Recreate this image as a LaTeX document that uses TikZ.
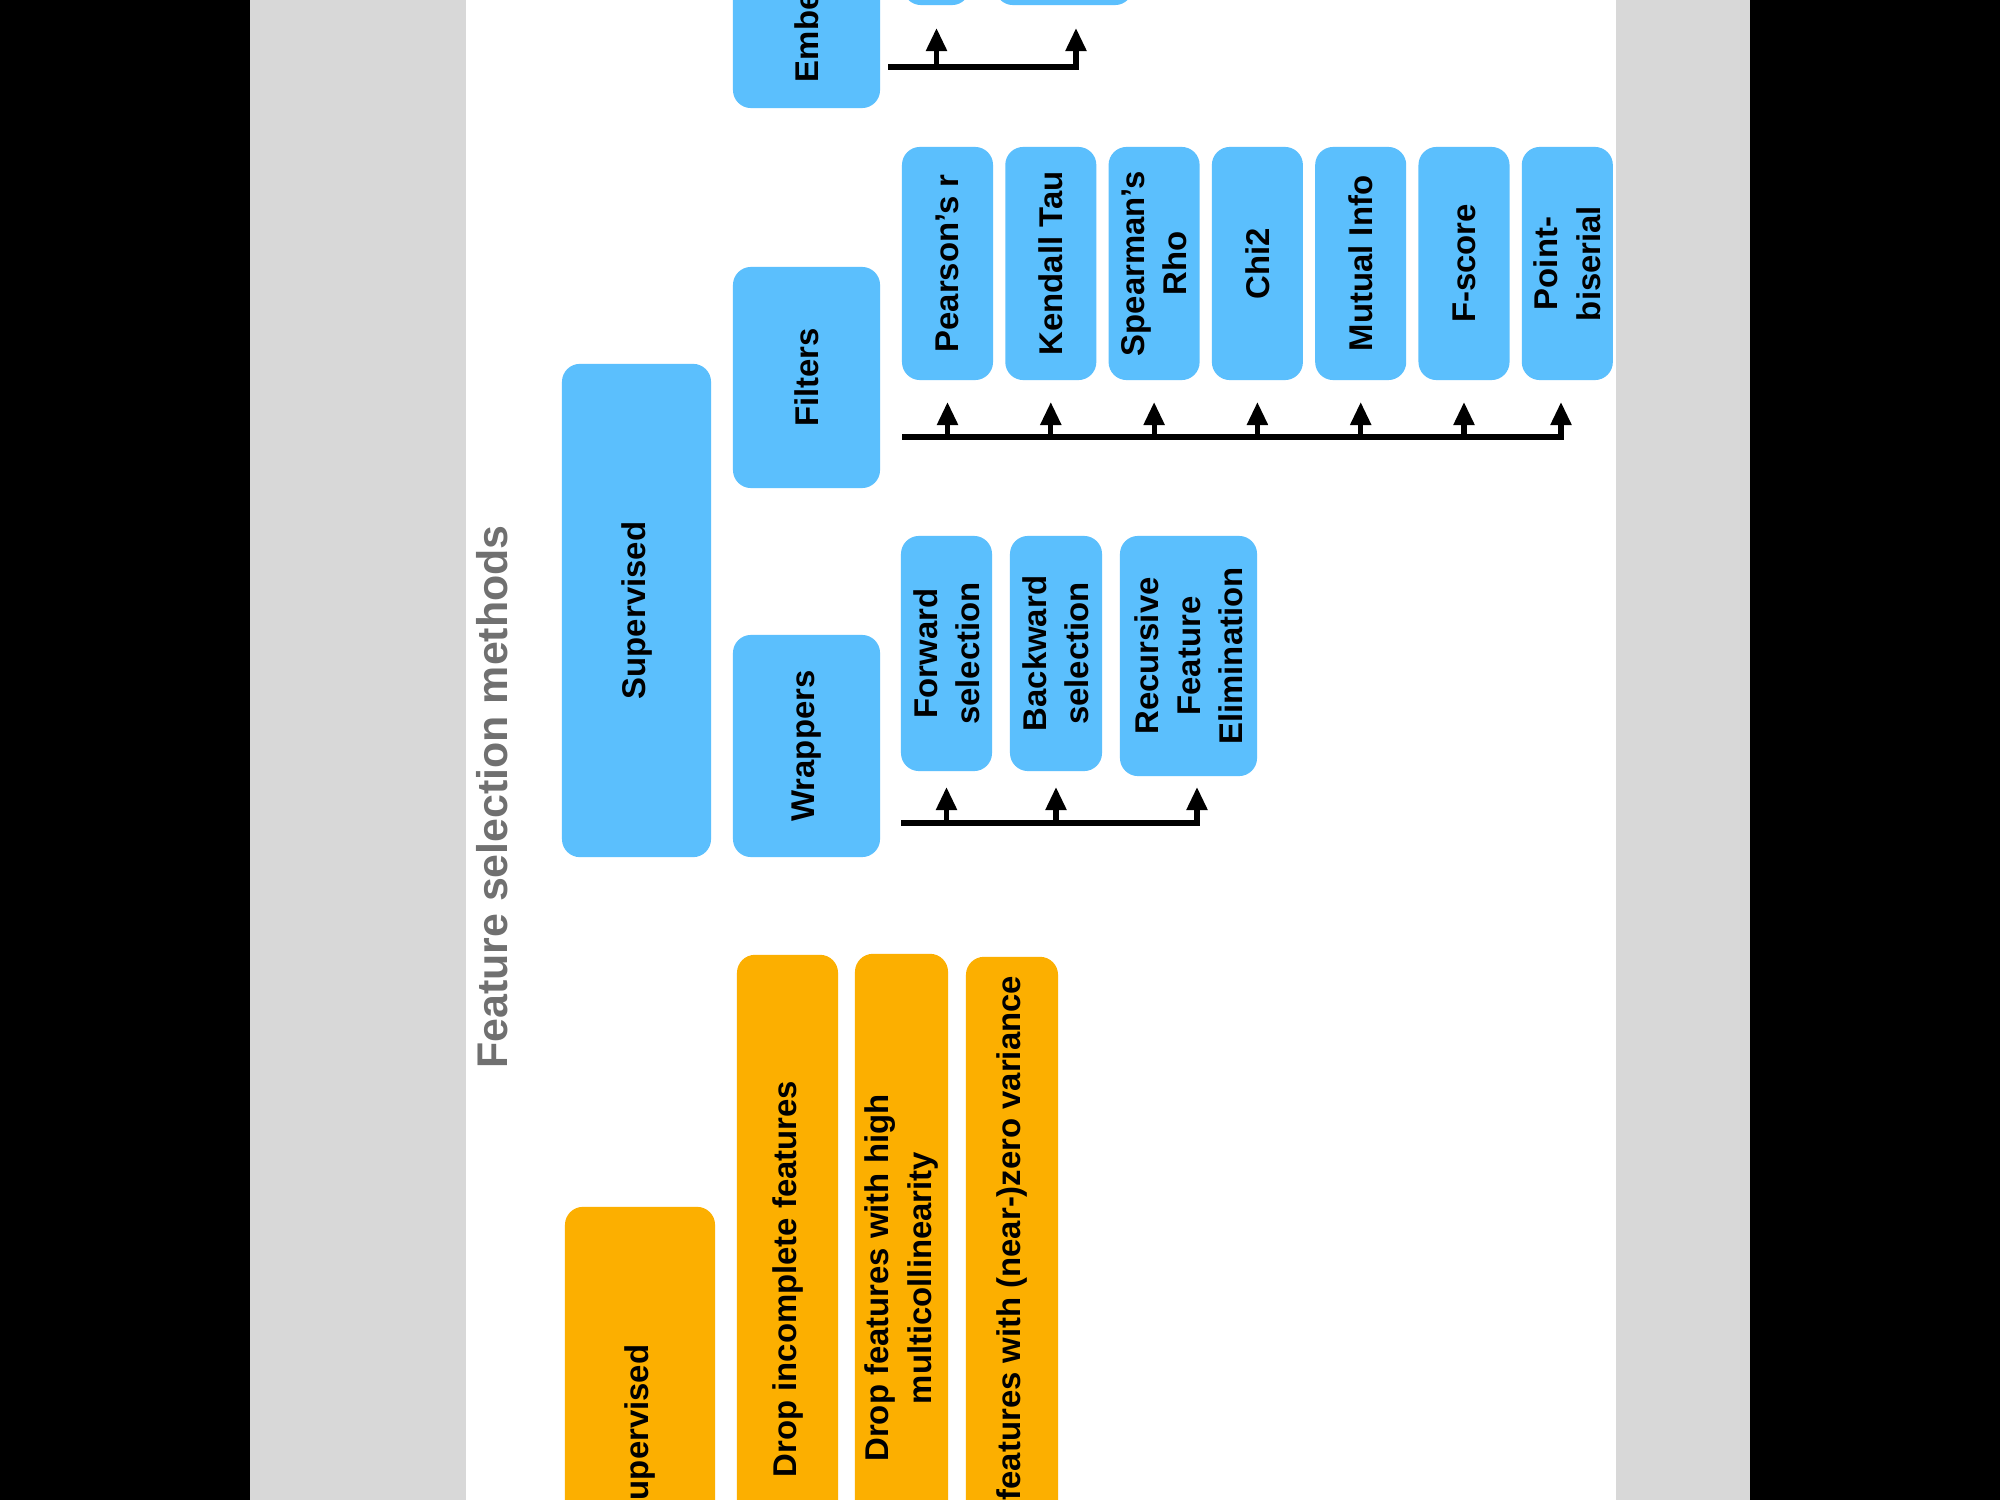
\documentclass[tikz,border=0pt]{standalone}
\usepackage{fontspec}
\setmainfont{Liberation Sans}
\usetikzlibrary{arrows.meta}
\definecolor{boxblue}{HTML}{5BBFFD}
\definecolor{boxorange}{HTML}{FCAF00}
\definecolor{stripgrey}{HTML}{D8D8D8}
\definecolor{titlegrey}{HTML}{707070}
\begin{document}
\begin{tikzpicture}[x=0.01cm,y=-0.01cm,
  nbox/.style={rotate=90, rounded corners=0.18cm, inner sep=0pt, align=center,
    font=\bfseries\fontsize{9.35pt}{12pt}\selectfont, text=black},
  bluebox/.style={nbox, fill=boxblue},
  orangebox/.style={nbox, fill=boxorange},
  sz/.style 2 args={minimum width=#2, minimum height=#1},
  conn/.style={line width=0.052cm, black},
  arr/.style={conn, -{Triangle[length=0.23cm,width=0.2cm]}},
]
\useasboundingbox (0,0) rectangle (2000,1500);
% screen background
\fill[black] (0,0) rectangle (2000,1500);
\fill[stripgrey] (250,0) rectangle (466,1500);
\fill[stripgrey] (1616,0) rectangle (1750,1500);
\fill[white] (466,0) rectangle (1616,1500);

\begin{scope}
\clip (466,0) rectangle (1616,1500);

% title
\node[rotate=90, anchor=base, text=titlegrey, inner sep=0pt,
      font=\bfseries\fontsize{12.2pt}{14pt}\selectfont] (title) at (507,797) {Feature selection methods};

% supervised branch
\node[bluebox, sz={1.49cm}{4.93cm}] (sup)  at (636.5,610.5) {Supervised};
\node[bluebox, sz={1.47cm}{2.20cm}] (emb)  at (806.5,-2) {Embedded};
\node[bluebox, sz={1.47cm}{2.21cm}] (filt) at (806.5,377.5) {Filters};
\node[bluebox, sz={1.47cm}{2.22cm}] (wrap) at (806.5,746) {Wrappers};

% embedded children (cut off)
\node[bluebox, sz={0.67cm}{2.00cm}] (e1) at (936.5,-95) {};
\node[bluebox, sz={1.38cm}{2.00cm}] (e2) at (1064,-95) {};

% filter children
\node[bluebox, sz={0.91cm}{2.33cm}] (pr)  at (947.5,263.5) {Pearson’s r};
\node[bluebox, sz={0.91cm}{2.33cm}] (kt)  at (1050.8,263.5) {Kendall Tau};
\node[bluebox, sz={0.91cm}{2.33cm}] (sr)  at (1154.1,263.5) {Spearman’s\\Rho};
\node[bluebox, sz={0.91cm}{2.33cm}] (chi) at (1257.4,263.5) {Chi2};
\node[bluebox, sz={0.91cm}{2.33cm}] (mi)  at (1360.7,263.5) {Mutual Info};
\node[bluebox, sz={0.91cm}{2.33cm}] (fs)  at (1464,263.5) {F-score};
\node[bluebox, sz={0.91cm}{2.33cm}] (pb)  at (1567.3,263.5) {Point-\\biserial};

% wrapper children
\node[bluebox, sz={0.91cm}{2.35cm}] (fw)  at (946.5,653.5) {Forward\\selection};
\node[bluebox, sz={0.92cm}{2.35cm}] (bw)  at (1056,653.5) {Backward\\selection};
\node[bluebox, sz={1.37cm}{2.40cm}] (rfe) at (1188.5,656) {Recursive\\Feature\\Elimination};

% unsupervised branch
\node[orangebox, sz={1.50cm}{4.93cm}] (unsup) at (640,1453.5) {Unsupervised};
\node[orangebox, sz={1.01cm}{6.48cm}] (dinc) at (787.5,1279) {Drop incomplete features};
\node[orangebox, sz={0.93cm}{6.48cm}] (dmul) at (901.5,1278) {Drop features with high\\multicollinearity};
\node[orangebox, sz={0.92cm}{6.48cm}] (dvar) at (1012,1281) {Drop features with (near-)zero variance};

% embedded connectors
\coordinate (etrunk) at (888,67);
\coordinate (etip) at (0,28);
\coordinate (eend) at (1076,67);
\draw[arr] (etrunk) -| (eend |- etip);
\draw[arr] (e1.west |- etrunk) -- (e1.west |- etip);

% filter connectors
\coordinate (ftrunk) at (902,437);
\coordinate (ftip) at (0,402);
\coordinate (fend) at (1561,437);
\draw[arr] (ftrunk) -| (fend |- ftip);
\foreach \n in {pr,kt,sr,chi,mi,fs}
  \draw[arr] (\n.west |- ftrunk) -- (\n.west |- ftip);

% wrapper connectors
\coordinate (wtrunk) at (901,823);
\coordinate (wtip) at (0,787);
\coordinate (wend) at (1197,823);
\draw[arr] (wtrunk) -| (wend |- wtip);
\foreach \n in {fw,bw}
  \draw[arr] (\n.west |- wtrunk) -- (\n.west |- wtip);
\end{scope}
\end{tikzpicture}
\end{document}
